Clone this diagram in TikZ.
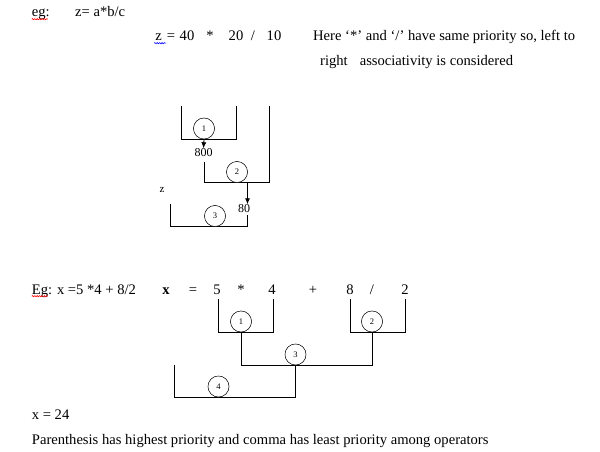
\documentclass[tikz,border=0pt]{standalone}
\usepackage{fontspec}
\setmainfont{Liberation Serif}
\usetikzlibrary{arrows.meta,decorations.pathmorphing}
\tikzset{
  txt/.style={anchor=base west, inner sep=0pt, font=\fontsize{14.6}{17}\selectfont},
  tok/.style={anchor=base, inner sep=0pt, font=\fontsize{14.6}{17}\selectfont},
  val/.style={inner sep=0pt, font=\fontsize{12}{12}\selectfont},
  stepcirc/.style={circle, draw, fill=white, minimum size=21pt, inner sep=0pt, font=\fontsize{8.5}{8.5}\selectfont},
  bracket/.style={line width=0.8pt},
  squig/.style={line width=0.6pt, decorate, decoration={snake, amplitude=0.6pt, segment length=2.4pt}}
}
\begin{document}
\begin{tikzpicture}[x=1pt,y=-1pt]
\useasboundingbox (0,0) rectangle (600,452);
% first example
\node[txt] (eg) at (31.7,17) {eg:};
\node[txt] (expr) at (75,17) {z= a*b/c};
\draw[squig, red] (eg.base west) ++(0,2.2) -- ++(16,0);
\node[tok] (z0) at (158.5,41) {z};
\node[tok] (eq0) at (171,41) {=};
\node[tok] (n40) at (187,41) {40};
\node[tok] (m0) at (210,41) {*};
\node[tok] (n20) at (236,41) {20};
\node[tok] (d0) at (253,41) {/};
\node[tok] (n10) at (274,41) {10};
\draw[squig, blue] (z0.base west) ++(-1,2.2) -- ++(12,0);
\node[txt] (note1) at (313,41) {Here ‘*’ and ‘/’ have same priority so, left to};
\node[txt] (note2) at (320,66) {right\hspace{12pt}associativity is considered};
% tree of z
\node[stepcirc] (c1) at (204,128.5) {1};
\node[stepcirc] (c2) at (237,172) {2};
\node[stepcirc] (c3) at (215,216) {3};
\node[val] (v800) at (203.5,152.5) {800};
\node[val] (v80) at (244,208.5) {80};
\node[inner sep=0pt, font=\fontsize{11}{11}\selectfont] (zz) at (162,189.5) {z};
\coordinate (a2) at (247.5,182.5);
\draw[bracket] (181.5,106) |- (c1.south) -| (236.5,106);
\draw[bracket] (204,161.5) |- (c2.south) -| (269,106);
\draw[bracket] (170,204) |- (c3.south) -| (247.5,215);
\draw[-{Latex[length=6pt,width=5pt]}, bracket] (c1.south) -- (v800.north);
\draw[-{Latex[length=6pt,width=5pt]}, bracket] (a2) -- (a2 |- v80.north);
\node[stepcirc] at (c1) {1};
\node[stepcirc] at (c2) {2};
\node[stepcirc] at (c3) {3};
% second example
\node[txt] (Eg) at (31.7,294) {Eg: x =5 *4 + 8/2};
\draw[squig, red] (Eg.base west) ++(0,2.2) -- ++(16,0);
\node[tok] (x1) at (166,294) {\textbf{x}};
\node[tok] (eq1) at (193,294) {=};
\node[tok] (n5) at (217,294) {5};
\node[tok] (m1) at (241,294) {*};
\node[tok] (n4) at (272,294) {4};
\node[tok] (p1) at (313,294) {+};
\node[tok] (n8) at (350,294) {8};
\node[tok] (d1) at (372,294) {/};
\node[tok] (n2) at (405,294) {2};
% tree of x
\node[stepcirc] (cA) at (241,321.5) {1};
\node[stepcirc] (cB) at (372,321.5) {2};
\node[stepcirc] (cC) at (295.5,354.5) {3};
\node[stepcirc] (cD) at (218.5,386.5) {4};
\draw[bracket] (218,299) |- (cA.south) -| (273.5,299);
\draw[bracket] (350,299) |- (cB.south) -| (405.5,299);
\draw[bracket] (cA.south) |- (cC.south) -| (cB.south);
\draw[bracket] (174,365) |- (cD.south) -| (cC.south);
\node[stepcirc] at (cA) {1};
\node[stepcirc] at (cB) {2};
\node[stepcirc] at (cC) {3};
\node[stepcirc] at (cD) {4};
% result
\node[txt] (res) at (31.7,419) {x = 24};
\node[txt] (rule) at (31.7,444) {Parenthesis has highest priority and comma has least priority among operators};
\end{tikzpicture}
\end{document}
